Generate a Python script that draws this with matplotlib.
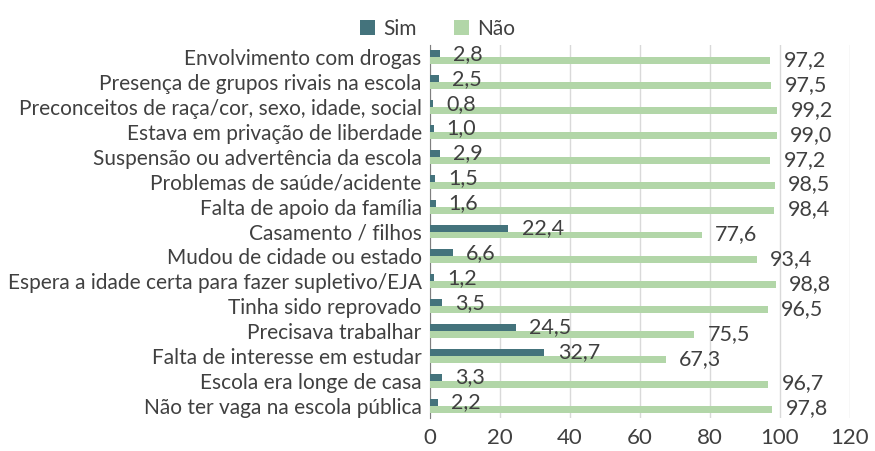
import matplotlib.pyplot as plt
import numpy as np

plt.rcParams['font.family'] = ['Lato', 'DejaVu Sans']

motivos = [
    "Envolvimento com drogas",
    "Presença de grupos rivais na escola",
    "Preconceitos de raça/cor, sexo, idade, social",
    "Estava em privação de liberdade",
    "Suspensão ou advertência da escola",
    "Problemas de saúde/acidente",
    "Falta de apoio da família",
    "Casamento / filhos",
    "Mudou de cidade ou estado",
    "Espera a idade certa para fazer supletivo/EJA",
    "Tinha sido reprovado",
    "Precisava trabalhar",
    "Falta de interesse em estudar",
    "Escola era longe de casa",
    "Não ter vaga na escola pública",
]
sim = [2.8, 2.5, 0.8, 1.0, 2.9, 1.5, 1.6, 22.4, 6.6, 1.2, 3.5, 24.5, 32.7, 3.3, 2.2]
nao = [97.2, 97.5, 99.2, 99.0, 97.2, 98.5, 98.4, 77.6, 93.4, 98.8, 96.5, 75.5, 67.3, 96.7, 97.8]

cor_sim = "#44737c"
cor_nao = "#b2d6a8"
cor_texto = "#404040"

fig = plt.figure(figsize=(8.75, 4.51), dpi=100)
ax = fig.add_axes([430 / 875, 1 - 418 / 451, 420 / 875, 373 / 451])

y = np.arange(len(motivos))
h = 0.28
ax.barh(y - h / 2, sim, height=h, color=cor_sim, label="Sim", zorder=3)
ax.barh(y + h / 2, nao, height=h, color=cor_nao, label="Não", zorder=3)

for yi, v in zip(y, sim):
    ax.annotate(f"{v:.1f}".replace(".", ","), (v, yi - h / 2), xytext=(9.5, 0),
                textcoords="offset points", va="center", ha="left",
                fontsize=15.5, color=cor_texto)
for yi, v in zip(y, nao):
    ax.annotate(f"{v:.1f}".replace(".", ","), (v, yi + h / 2), xytext=(9.5, 0.5),
                textcoords="offset points", va="center", ha="left",
                fontsize=15.5, color=cor_texto)

ax.set_ylim(len(motivos) - 0.5, -0.5)
ax.set_yticks(y)
ax.set_yticklabels(motivos, fontsize=15, color=cor_texto)
ax.set_xlim(0, 120)
ax.set_xticks(range(0, 121, 20))
ax.tick_params(axis="x", labelsize=16, colors=cor_texto, length=0, pad=7)
ax.tick_params(axis="y", length=0, pad=6)
ax.grid(axis="x", color="#d9d9d9", linewidth=1, zorder=0)
for s in ["top", "right", "bottom"]:
    ax.spines[s].set_visible(False)
ax.spines["left"].set_color("#7f7f7f")

fig.legend(loc="upper center", bbox_to_anchor=(0.5, 1.0), ncol=2, frameon=False,
           fontsize=15, handlelength=0.7, handleheight=0.7, columnspacing=1.8,
           handletextpad=0.4, labelcolor=cor_texto)

fig.savefig("out.png", dpi=100)
